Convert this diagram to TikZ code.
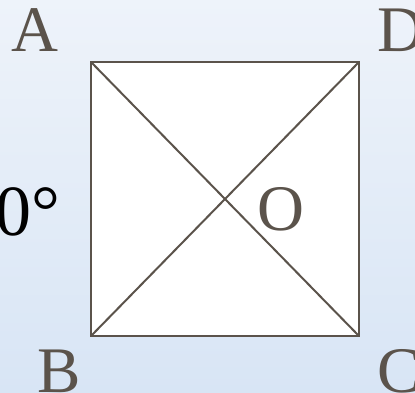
\documentclass[tikz,border=0pt]{standalone}
\usepackage{fontspec}
\setmainfont{Liberation Serif}
\usetikzlibrary{positioning}

\definecolor{inkbrown}{HTML}{5B534B}
\definecolor{skytop}{HTML}{EEF3FA}
\definecolor{skybot}{HTML}{D8E5F5}

\begin{document}
\begin{tikzpicture}[x=1pt,y=-1pt]

% ---- Styles ----
\tikzset{
  corner/.style={inner sep=0pt, anchor=base west, text=inkbrown,
                 font=\fontsize{65}{70}\selectfont},
  edge/.style={draw=inkbrown, line width=2pt},
}

% --- background ---
\useasboundingbox (0,0) rectangle (415,393);
\shade[top color=skytop, bottom color=skybot] (0,0) rectangle (415,393);

% --- square corners ---
\coordinate (pA) at (91,62);
\coordinate (pD) at (359,62);
\coordinate (pC) at (359,336);
\coordinate (pB) at (91,336);

\filldraw[edge, fill=white] (pA) -- (pD) -- (pC) -- (pB) -- cycle;
\draw[edge] (pA) -- (pC);
\draw[edge] (pD) -- (pB);

% --- letters ---
\node[corner] (labA) at (11,52) {A};
\node[corner] (labD) at (377,52) {D};
\node[corner] (labB) at (37,392) {B};
\node[corner] (labC) at (377,392) {C};
\node[corner] (labO) at (257,230) {O};
\node[corner, text=black, font=\fontsize{72}{78}\selectfont] (angle) at (-5,235) {0°};

\end{tikzpicture}
\end{document}
